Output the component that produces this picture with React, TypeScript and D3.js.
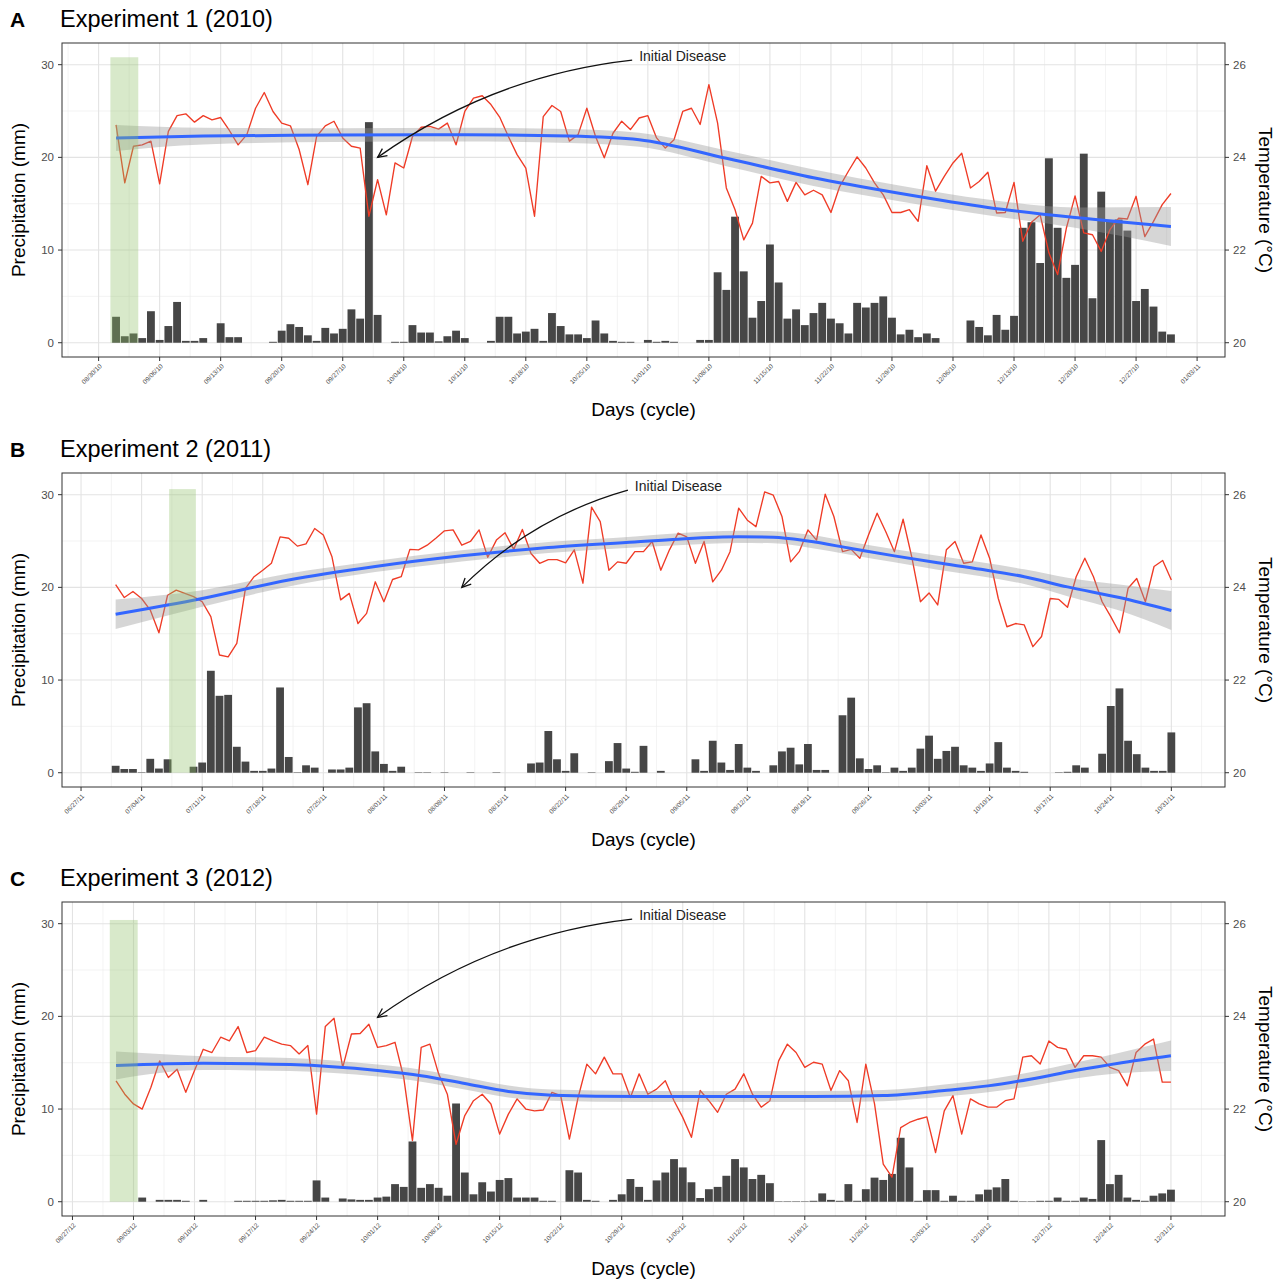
import * as d3 from 'd3'

const FONT = '"Liberation Sans", Arial, Helvetica, sans-serif'

// y axes: precipitation on the left, temperature (°C) on the right (temp = 20 + precip / 5)
const precipTicks = [0, 10, 20, 30]
const precipMinor = [5, 15, 25]
const tempTicks = [20, 22, 24, 26]

// ---------- Experiment 1 (2010) ----------
const startA = '09/01/10'
const ticksA = ['08/30/10', '09/06/10', '09/13/10', '09/20/10', '09/27/10', '10/04/10', '10/11/10', '10/18/10', '10/25/10', '11/01/10',
  '11/08/10', '11/15/10', '11/22/10', '11/29/10', '12/06/10', '12/13/10', '12/20/10', '12/27/10', '01/03/11']
const precipA = [2.8, 0.7, 1.0, 0.5, 3.4, 0.3, 1.8, 4.4, 0.2, 0.2, 0.5, 0, 2.1, 0.6, 0.6, 0, 0, 0, 0.1, 1.3,
  2.0, 1.7, 0.8, 0.2, 1.6, 1.0, 1.5, 3.6, 2.6, 23.8, 3.0, 0, 0.1, 0.1, 1.9, 1.1, 1.1, 0.15, 0.7, 1.3,
  0.5, 0, 0, 0.2, 2.8, 2.8, 1.0, 1.2, 1.5, 0.2, 3.2, 1.8, 0.9, 0.9, 0.5, 2.4, 1.0, 0.2, 0.1, 0.1,
  0, 0.3, 0.1, 0.2, 0.1, 0, 0, 0.3, 0.3, 7.6, 5.7, 13.6, 7.7, 2.7, 4.5, 10.6, 6.5, 2.6, 3.6, 1.9,
  3.2, 4.3, 2.6, 2.1, 1.0, 4.3, 3.8, 4.3, 5.0, 2.7, 0.9, 1.4, 0.6, 1.0, 0.5, 0, 0, 0, 2.4, 1.7,
  0.8, 3.0, 1.4, 2.9, 12.4, 13.0, 8.6, 19.9, 12.4, 7.0, 8.4, 20.4, 4.8, 16.3, 13.1, 13.3, 12.1, 4.5, 5.8, 3.9,
  1.2, 0.9]
const tempA = [24.7, 23.45, 24.24, 24.27, 24.35, 23.43, 24.56, 24.9, 24.94, 24.76, 24.9, 24.81, 24.86, 24.58, 24.27, 24.49, 25.06, 25.4, 24.99, 24.74,
  24.68, 24.17, 23.41, 24.45, 24.68, 24.78, 24.42, 24.24, 24.2, 22.73, 23.52, 22.76, 23.88, 23.77, 24.45, 24.65, 24.67, 24.61, 24.74, 24.27,
  24.99, 25.28, 25.33, 25.14, 24.87, 24.45, 24.06, 23.77, 22.73, 24.88, 25.12, 24.99, 24.35, 24.49, 25.06, 24.45, 23.99, 24.52, 24.78, 24.6,
  24.85, 24.9, 24.42, 24.2, 24.38, 24.99, 25.06, 24.71, 25.57, 24.74, 23.34, 22.87, 22.22, 22.58, 23.59, 23.45, 23.48, 23.05, 23.46, 23.19,
  23.29, 23.19, 22.81, 23.37, 23.7, 24.01, 23.77, 23.45, 23.19, 22.81, 22.81, 22.87, 22.62, 23.82, 23.27, 23.59, 23.88, 24.09, 23.34, 23.48,
  23.68, 22.8, 22.81, 23.46, 22.19, 22.6, 22.76, 21.94, 21.47, 22.47, 23.17, 22.37, 22.33, 21.97, 22.44, 22.69, 22.67, 23.16, 22.29, 22.62,
  22.98, 23.22]
const smoothDaysA = [0, 10, 25, 40, 52, 60, 70, 80, 90, 100, 110, 121]
const smoothTempA = [24.42, 24.46, 24.48, 24.49, 24.46, 24.38, 23.98, 23.56, 23.22, 22.92, 22.7, 22.51]
const smoothSeA = [0.28, 0.18, 0.15, 0.15, 0.15, 0.15, 0.17, 0.18, 0.17, 0.17, 0.22, 0.42]
const greenA = [-0.65, 2.55, 30.8]
const diseaseA = [30, 20]

// ---------- Experiment 2 (2011) ----------
const startB = '07/01/11'
const ticksB = ['06/27/11', '07/04/11', '07/11/11', '07/18/11', '07/25/11', '08/01/11', '08/08/11', '08/15/11', '08/22/11', '08/29/11',
  '09/05/11', '09/12/11', '09/19/11', '09/26/11', '10/03/11', '10/10/11', '10/17/11', '10/24/11', '10/31/11']
const precipB = [0.75, 0.4, 0.4, 0.05, 1.5, 0.45, 1.45, 0, 0, 0.65, 1.1, 11.0, 8.3, 8.4, 2.8, 1.2, 0.2, 0.2, 0.45, 9.2,
  1.7, 0.05, 0.8, 0.55, 0, 0.35, 0.35, 0.55, 7.05, 7.5, 2.3, 0.95, 0.2, 0.65, 0, 0.05, 0.05, 0, 0.05, 0,
  0, 0.05, 0, 0, 0.05, 0, 0, 0, 1.0, 1.1, 4.5, 1.45, 0.2, 2.1, 0, 0.05, 0, 1.25, 3.2, 0.45,
  0.1, 2.9, 0, 0.2, 0, 0, 0, 1.45, 0.2, 3.45, 1.1, 0.3, 3.1, 0.55, 0.2, 0, 0.8, 2.3, 2.7, 0.9,
  3.1, 0.3, 0.3, 0, 6.2, 8.1, 1.55, 0.4, 0.8, 0.05, 0.55, 0.2, 0.55, 2.6, 4.0, 1.5, 2.35, 2.8, 0.8, 0.55,
  0.2, 1.0, 3.3, 0.55, 0.2, 0.1, 0, 0, 0, 0.05, 0.1, 0.8, 0.55, 0, 2.05, 7.2, 9.1, 3.45, 2.0, 0.55,
  0.2, 0.2, 4.35]
const tempB = [24.06, 23.78, 23.91, 23.76, 23.51, 23.02, 23.83, 23.94, 23.87, 23.8, 23.69, 23.37, 22.54, 22.5, 22.79, 23.98, 24.23, 24.37, 24.52, 25.09,
  25.06, 24.89, 24.94, 25.27, 25.13, 24.66, 23.73, 23.87, 23.22, 23.44, 24.12, 23.69, 24.17, 24.23, 24.82, 24.81, 24.91, 25.06, 25.22, 25.24,
  24.91, 24.99, 25.24, 24.65, 25.02, 25.18, 24.82, 25.25, 24.73, 24.52, 24.6, 24.6, 24.53, 24.81, 24.09, 25.73, 25.42, 24.37, 24.55, 24.52,
  24.77, 24.77, 24.99, 24.37, 24.81, 25.17, 25.09, 24.52, 24.99, 24.12, 24.37, 24.77, 25.71, 25.45, 25.31, 26.06, 25.99, 25.53, 24.55, 24.77,
  25.24, 25.02, 26.01, 25.53, 24.77, 24.82, 24.63, 25.13, 25.6, 25.2, 24.77, 25.47, 24.66, 23.69, 23.88, 23.62, 24.81, 24.99, 24.52, 24.55,
  25.13, 24.63, 23.76, 23.15, 23.22, 23.19, 22.72, 22.94, 23.76, 23.74, 23.57, 24.23, 24.63, 24.23, 23.69, 23.37, 23.02, 23.98, 24.19, 23.69,
  24.45, 24.58, 24.16]
const smoothDaysB = [0, 10, 20, 30, 40, 50, 60, 65, 72, 76, 80, 85, 90, 95, 100, 105, 110, 116, 122]
const smoothTempB = [23.42, 23.76, 24.16, 24.45, 24.68, 24.86, 24.98, 25.04, 25.09, 25.08, 25.0, 24.84, 24.68, 24.53, 24.39, 24.23, 24.01, 23.78, 23.5]
const smoothSeB = [0.32, 0.18, 0.14, 0.12, 0.12, 0.12, 0.12, 0.13, 0.13, 0.13, 0.14, 0.14, 0.14, 0.15, 0.15, 0.16, 0.2, 0.28, 0.42]
const greenB = [6.18, 9.27, 30.6]
const diseaseB = [40, 20]

// ---------- Experiment 3 (2012) ----------
const startC = '09/01/12'
const ticksC = ['08/27/12', '09/03/12', '09/10/12', '09/17/12', '09/24/12', '10/01/12', '10/08/12', '10/15/12', '10/22/12', '10/29/12',
  '11/05/12', '11/12/12', '11/19/12', '11/26/12', '12/03/12', '12/10/12', '12/17/12', '12/24/12', '12/31/12']
const precipC = [0, 0, 0, 0.45, 0, 0.2, 0.2, 0.2, 0.1, 0, 0.2, 0, 0, 0, 0.1, 0.1, 0.1, 0.1, 0.15, 0.2,
  0.1, 0.1, 0.1, 2.3, 0.45, 0, 0.35, 0.25, 0.2, 0.2, 0.45, 0.55, 1.9, 1.6, 6.5, 1.5, 1.9, 1.5, 0.65, 10.6,
  3.15, 0.8, 2.1, 1.1, 2.35, 2.55, 0.45, 0.45, 0.45, 0.1, 0.1, 0, 3.4, 3.15, 0.2, 0.1, 0, 0.2, 0.8, 2.45,
  1.6, 0.2, 2.3, 3.15, 4.6, 3.7, 2.1, 0.4, 1.35, 1.6, 2.8, 4.6, 3.7, 2.45, 2.9, 2.0, 0.05, 0.05, 0.05, 0.05,
  0.1, 0.9, 0.2, 0.1, 1.9, 0.1, 1.35, 2.6, 2.35, 3.0, 6.9, 3.7, 0.1, 1.25, 1.25, 0.1, 0.65, 0.1, 0.1, 0.8,
  1.3, 1.55, 2.45, 0.1, 0.05, 0.05, 0.1, 0.1, 0.45, 0.1, 0.1, 0.45, 0.3, 6.65, 1.9, 2.9, 0.45, 0.2, 0.1, 0.65,
  0.9, 1.3]
const tempC = [22.61, 22.32, 22.11, 22.0, 22.47, 23.04, 22.68, 22.86, 22.36, 22.83, 23.29, 23.22, 23.55, 23.47, 23.78, 23.22, 23.26, 23.55, 23.47, 23.4,
  23.37, 23.19, 23.37, 21.89, 23.78, 23.96, 22.9, 23.62, 23.63, 23.83, 23.33, 23.37, 23.44, 22.68, 21.32, 23.33, 23.4, 22.76, 22.32, 21.24,
  21.86, 22.18, 22.32, 22.11, 21.46, 21.89, 22.22, 22.0, 21.96, 21.98, 22.36, 22.29, 21.35, 22.25, 22.97, 22.76, 23.12, 22.76, 22.76, 22.25,
  22.76, 22.32, 22.43, 22.61, 22.18, 21.82, 21.39, 22.4, 22.18, 21.93, 22.32, 22.43, 22.76, 22.32, 22.04, 22.18, 23.04, 23.4, 23.22, 22.9,
  23.01, 22.97, 22.4, 22.83, 22.61, 21.71, 22.97, 22.11, 20.81, 20.53, 21.6, 21.71, 21.78, 21.83, 21.06, 21.96, 22.29, 21.46, 22.22, 22.11,
  22.04, 22.04, 22.18, 22.22, 23.12, 23.15, 22.97, 23.47, 23.33, 23.29, 22.9, 23.15, 23.15, 23.12, 22.9, 22.83, 22.5, 23.22, 23.4, 23.51,
  22.58, 22.58]
const smoothDaysC = [0, 10, 20, 30, 35, 40, 45, 50, 60, 70, 80, 88, 95, 100, 105, 110, 115, 121]
const smoothTempC = [22.94, 22.99, 22.96, 22.83, 22.72, 22.55, 22.38, 22.3, 22.27, 22.27, 22.27, 22.29, 22.4, 22.5, 22.65, 22.83, 22.99, 23.15]
const smoothSeC = [0.3, 0.15, 0.14, 0.13, 0.13, 0.13, 0.13, 0.12, 0.12, 0.12, 0.12, 0.12, 0.13, 0.14, 0.15, 0.17, 0.22, 0.33]
const greenC = [-0.72, 2.48, 30.4]
const diseaseC = [30, 19.9]

const parseDate = d3.timeParse('%m/%d/%y')
const DAY = 864e5

interface PanelProps {
  letter: string
  title: string
  top: number
  start: string
  ticks: string[]
  precip: number[]
  temp: number[]
  smoothDays: number[]
  smoothTemp: number[]
  smoothSe: number[]
  green: number[]
  disease: number[]
}

function Panel({ letter, title, top, start, ticks, precip, temp, smoothDays, smoothTemp, smoothSe, green, disease }: PanelProps) {
  const left = 62
  const right = 1225
  const height = 314
  const bottom = top + height
  const t0 = parseDate(start)!
  const at = (d: number) => new Date(t0.getTime() + d * DAY)
  const last = precip.length - 1

  const x = d3.scaleTime().domain([at(-6.2), at(last + 6.2)]).range([left, right])
  const y = d3.scaleLinear().domain([-1.54, 32.34]).range([bottom, top])
  const yT = (v: number) => y((v - 20) * 5)

  const tickDates = ticks.map(t => parseDate(t)!)
  const [d0, d1] = x.domain()
  const minorX = [d3.timeDay.offset(tickDates[0], -7), ...tickDates]
    .map(d => new Date(d.getTime() + 3.5 * DAY))
    .filter(d => d >= d0 && d <= d1)

  const bw = x(at(0.45)) - x(at(-0.45))

  const tempLine = d3.line<number>()
    .x((_, i) => x(at(i)))
    .y(d => yT(d))

  const smoothIdx = smoothDays.map((_, i) => i)
  const smoothLine = d3.line<number>()
    .x(i => x(at(smoothDays[i])))
    .y(i => yT(smoothTemp[i]))
    .curve(d3.curveMonotoneX)
  const smoothBand = d3.area<number>()
    .x(i => x(at(smoothDays[i])))
    .y0(i => yT(smoothTemp[i] - smoothSe[i]))
    .y1(i => yT(smoothTemp[i] + smoothSe[i]))
    .curve(d3.curveMonotoneX)

  // annotation: label + curved arrow
  const labelX = x(at(60))
  const labelY = y(30.9)
  const p0 = { x: x(at(59.2)), y: y(30.5) }
  const p1 = { x: x(at(disease[0])), y: y(disease[1]) }
  const dx = p1.x - p0.x
  const dy = p1.y - p0.y
  const len = Math.hypot(dx, dy)
  const bend = 0.13
  const c = { x: (p0.x + p1.x) / 2 - (dy / len) * bend * len, y: (p0.y + p1.y) / 2 + (dx / len) * bend * len }
  const ang = Math.atan2(p1.y - c.y, p1.x - c.x)
  const head = 10
  const w1 = { x: p1.x - head * Math.cos(ang - 0.45), y: p1.y - head * Math.sin(ang - 0.45) }
  const w2 = { x: p1.x - head * Math.cos(ang + 0.45), y: p1.y - head * Math.sin(ang + 0.45) }

  const midY = (top + bottom) / 2

  return (
    <g fontFamily={FONT}>
      <text x={10} y={top - 16} fontSize={21} fontWeight="bold">{letter}</text>
      <text x={60} y={top - 16} fontSize={23.5}>{title}</text>

      <rect x={left} y={top} width={right - left} height={height} fill="#ffffff" />
      {minorX.map((d, i) => (
        <line key={'mx' + i} x1={x(d)} x2={x(d)} y1={top} y2={bottom} stroke="#ebebeb" strokeWidth={0.6} />
      ))}
      {precipMinor.map(v => (
        <line key={'my' + v} x1={left} x2={right} y1={y(v)} y2={y(v)} stroke="#ebebeb" strokeWidth={0.6} />
      ))}
      {tickDates.map((d, i) => (
        <line key={'gx' + i} x1={x(d)} x2={x(d)} y1={top} y2={bottom} stroke="#e3e3e3" strokeWidth={1.1} />
      ))}
      {precipTicks.map(v => (
        <line key={'gy' + v} x1={left} x2={right} y1={y(v)} y2={y(v)} stroke="#e3e3e3" strokeWidth={1.1} />
      ))}

      {precip.map((v, i) => (
        <rect key={'b' + i} x={x(at(i)) - bw / 2} y={y(v)} width={bw} height={y(0) - y(v)} fill="#464646" />
      ))}

      <path d={tempLine(temp) ?? ''} fill="none" stroke="#ef3b26" strokeWidth={1.35} strokeLinejoin="round" />
      <path d={smoothBand(smoothIdx) ?? ''} fill="#999999" fillOpacity={0.4} />
      <path d={smoothLine(smoothIdx) ?? ''} fill="none" stroke="#3366ff" strokeWidth={3} />

      <rect x={x(at(green[0]))} y={y(green[2])} width={x(at(green[1])) - x(at(green[0]))}
        height={y(0) - y(green[2])} fill="#8fbf66" fillOpacity={0.35} />

      <rect x={left} y={top} width={right - left} height={height} fill="none" stroke="#333333" strokeWidth={1} />

      {precipTicks.map(v => (
        <g key={'ly' + v}>
          <line x1={left - 4} x2={left} y1={y(v)} y2={y(v)} stroke="#333333" strokeWidth={1} />
          <text x={left - 8} y={y(v)} dy="0.35em" textAnchor="end" fontSize={11.5} fill="#4d4d4d">{v}</text>
        </g>
      ))}
      {tempTicks.map(v => (
        <g key={'ry' + v}>
          <line x1={right} x2={right + 4} y1={yT(v)} y2={yT(v)} stroke="#333333" strokeWidth={1} />
          <text x={right + 8} y={yT(v)} dy="0.35em" fontSize={11.5} fill="#4d4d4d">{v}</text>
        </g>
      ))}
      {tickDates.map((d, i) => (
        <g key={'tx' + i}>
          <line x1={x(d)} x2={x(d)} y1={bottom} y2={bottom + 4} stroke="#333333" strokeWidth={1} />
          <text transform={`translate(${x(d) + 2},${bottom + 8}) rotate(-45)`} textAnchor="end" dy="0.35em"
            fontSize={6.5} fill="#4d4d4d">{ticks[i]}</text>
        </g>
      ))}

      <text x={(left + right) / 2} y={bottom + 59} textAnchor="middle" fontSize={19}>Days (cycle)</text>
      <text transform={`translate(18,${midY}) rotate(-90)`} textAnchor="middle" dy="0.35em" fontSize={19}>Precipitation (mm)</text>
      <text transform={`translate(1266,${midY}) rotate(90)`} textAnchor="middle" dy="0.35em" fontSize={19}>Temperature (°C)</text>

      <text x={labelX} y={labelY} dy="0.35em" fontSize={14} fill="#222222">Initial Disease</text>
      <path d={`M${p0.x},${p0.y} Q${c.x},${c.y} ${p1.x},${p1.y}`} fill="none" stroke="#111111" strokeWidth={1.3} />
      <path d={`M${w1.x},${w1.y} L${p1.x},${p1.y} L${w2.x},${w2.y}`} fill="none" stroke="#111111" strokeWidth={1.3} />
    </g>
  )
}

export default function App() {
  return (
    <div style={{ position: 'absolute', left: 0, top: 0 }}>
      <svg width={1284} height={1279} viewBox="0 0 1284 1279" style={{ display: 'block', background: '#ffffff' }}>
        <Panel letter="A" title="Experiment 1 (2010)" top={43} start={startA} ticks={ticksA} precip={precipA} temp={tempA}
          smoothDays={smoothDaysA} smoothTemp={smoothTempA} smoothSe={smoothSeA} green={greenA} disease={diseaseA} />
        <Panel letter="B" title="Experiment 2 (2011)" top={473} start={startB} ticks={ticksB} precip={precipB} temp={tempB}
          smoothDays={smoothDaysB} smoothTemp={smoothTempB} smoothSe={smoothSeB} green={greenB} disease={diseaseB} />
        <Panel letter="C" title="Experiment 3 (2012)" top={902} start={startC} ticks={ticksC} precip={precipC} temp={tempC}
          smoothDays={smoothDaysC} smoothTemp={smoothTempC} smoothSe={smoothSeC} green={greenC} disease={diseaseC} />
      </svg>
    </div>
  )
}
